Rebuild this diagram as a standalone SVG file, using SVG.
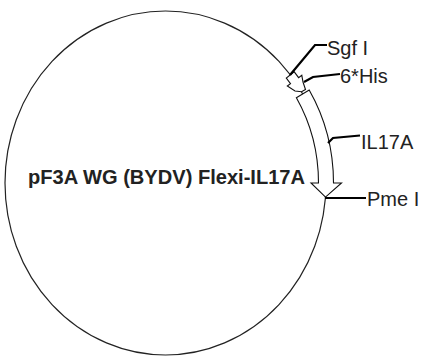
<svg xmlns="http://www.w3.org/2000/svg" width="425" height="356" viewBox="0 0 425 356">
<style>
.bb{fill:none;stroke:#222;stroke-width:1.2}
.feat{fill:#fff;stroke:#111;stroke-width:1.1;stroke-linejoin:miter}
.lead{fill:none;stroke:#000;stroke-width:2.2}
.lbl{font-family:"Liberation Sans",Arial,sans-serif;font-size:20px;fill:#222}
.title{font-family:"Liberation Sans",Arial,sans-serif;font-size:20px;font-weight:bold;fill:#222}
</style>
<rect width="425" height="356" fill="#fff"/>
<g id="backbone">
<ellipse class="bb" cx="165.5" cy="183" rx="160.5" ry="172"/>
<text class="title" x="28" y="184" textLength="277" lengthAdjust="spacingAndGlyphs">pF3A WG (BYDV) Flexi-IL17A</text>
</g>
<g id="his">
<path class="feat" d="M294.1,71.7 L298.6,77.7 L301.8,75.3 L303,82 L305.5,89.5 L301.6,91.8 L295,91 L287.3,86 L290.5,83.6 L286.3,78 Z"/>
</g>
<g id="il17a">
<path class="feat" d="M309.2,90 A168 179.5 0 0 1 333.5,183 L341.5,183 L325.5,197.1 L311,183 L318.5,183 A153 164.5 0 0 0 296.4,97.8 Z"/>
</g>
<g id="connectors">
<path class="lead" d="M290,75 L315,45 L327,45"/>
<path class="lead" d="M304,82 L313,77 L340,74"/>
<path class="lead" d="M328,143 L333,138 L360,135.5"/>
<path class="lead" d="M325,198 L366,198"/>
</g>
<g id="labels">
<text class="lbl" x="327" y="55">Sgf I</text>
<text class="lbl" x="340" y="83">6*His</text>
<text class="lbl" x="361" y="149">IL17A</text>
<text class="lbl" x="367" y="206">Pme I</text>
</g>
</svg>
